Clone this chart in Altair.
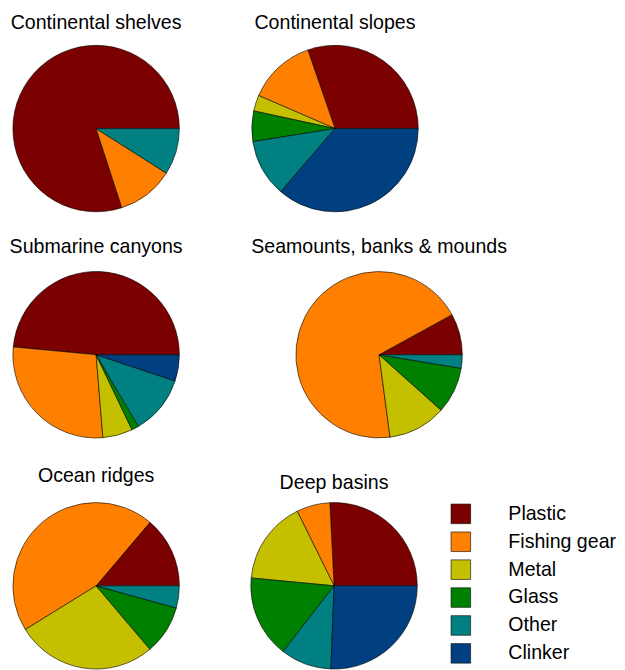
import math
import altair as alt
import pandas as pd

materials = ["Plastic", "Fishing gear", "Metal", "Glass", "Other", "Clinker"]
colors = ["#7b0000", "#ff8000", "#c4c000", "#008000", "#008080", "#003f80"]

regions = ["Continental shelves", "Continental slopes", "Submarine canyons",
           "Seamounts, banks & mounds", "Ocean ridges", "Deep basins"]

# percentages, order: Plastic, Fishing gear, Metal, Glass, Other, Clinker
continental_shelves = [80.0, 11.0, 0.0, 0.0, 9.0, 0.0]
continental_slopes = [30.3, 13.2, 3.1, 5.9, 11.2, 36.3]
submarine_canyons = [48.5, 27.8, 5.8, 1.4, 11.4, 5.1]
seamounts = [8.0, 69.1, 11.3, 9.0, 2.6, 0.0]
ocean_ridges = [13.8, 45.0, 27.4, 9.5, 4.3, 0.0]
deep_basins = [25.8, 6.5, 16.2, 16.0, 9.9, 25.6]

values = [continental_shelves, continental_slopes, submarine_canyons,
          seamounts, ocean_ridges, deep_basins]

rows = []
for reg, vals in zip(regions, values):
    for i, (m, v) in enumerate(zip(materials, vals)):
        if v > 0:
            rows.append({"region": reg, "material": m, "idx": i, "value": v})
df = pd.DataFrame(rows)

title_offsets = [-4, -4, -2, -2, 0, -7]


def pie(reg, off):
    return (
        alt.Chart(df)
        .transform_filter(alt.datum.region == reg)
        .mark_arc(outerRadius=85, stroke="black", strokeWidth=0.6)
        .encode(
            theta=alt.Theta("value:Q", stack=True,
                            scale=alt.Scale(range=[2.5 * math.pi, 0.5 * math.pi])),
            color=alt.Color(
                "material:N",
                scale=alt.Scale(domain=materials, range=colors),
                legend=alt.Legend(
                    title=None, orient="none", legendX=448, legendY=469,
                    symbolType="square", symbolSize=400,
                    symbolStrokeColor="black", symbolStrokeWidth=0.6,
                    labelFontSize=20, labelFont="Liberation Sans",
                    labelColor="black", labelOffset=38, rowPadding=5.5,
                ),
            ),
            order=alt.Order("idx:Q"),
        )
        .properties(
            width=172, height=172,
            title=alt.TitleParams(reg, fontSize=20, font="Liberation Sans",
                                  fontWeight="normal", color="black",
                                  anchor="middle", baseline="alphabetic",
                                  offset=off),
        )
    )


charts = [pie(r, o) for r, o in zip(regions, title_offsets)]
row1 = alt.hconcat(charts[0], charts[1], spacing=69)
row2 = alt.hconcat(charts[2], charts[3], spacing=69)
row3 = alt.hconcat(charts[4], charts[5], spacing=69)

chart = (
    alt.vconcat(row1, alt.vconcat(row2, row3, spacing=26), spacing=23)
    .properties(padding={"left": 1, "top": -3, "right": 0, "bottom": 0})
    .configure_view(stroke=None)
)

chart.save("out.html", embed_options={"renderer": "svg", "actions": False})
